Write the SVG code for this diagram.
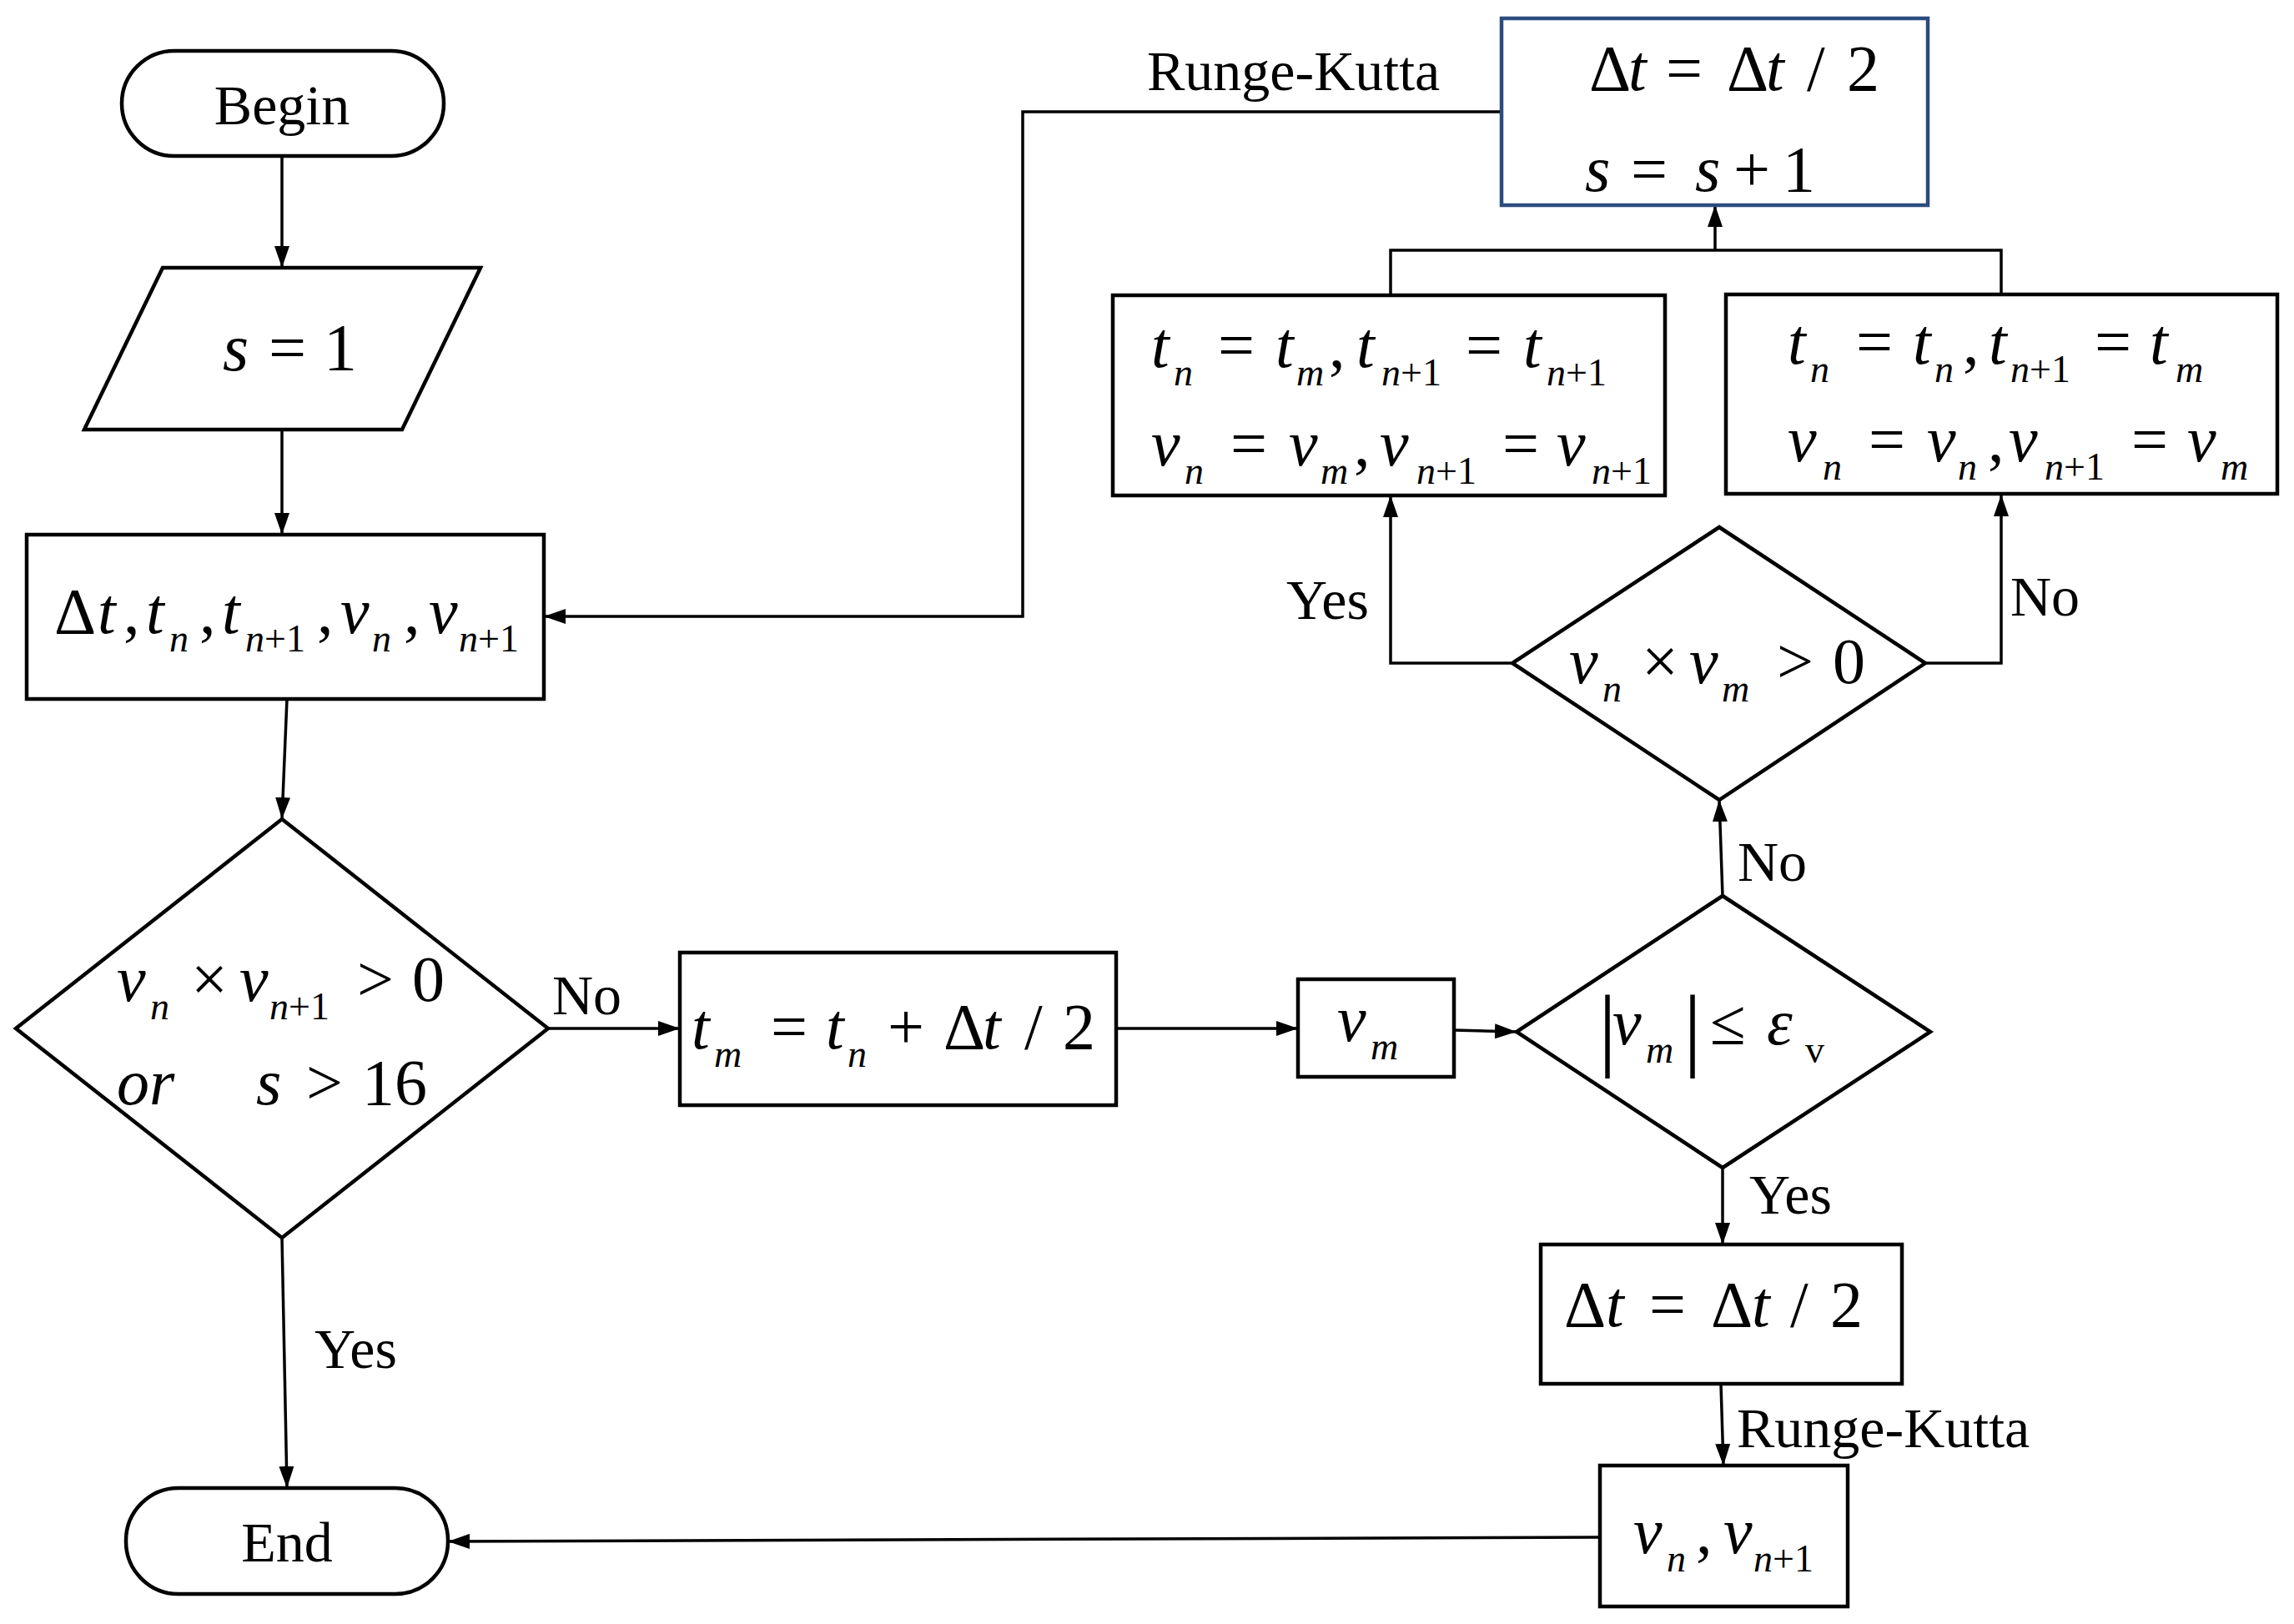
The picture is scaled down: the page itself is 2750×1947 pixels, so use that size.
<svg xmlns="http://www.w3.org/2000/svg" width="2750" height="1947" viewBox="0 0 2750 1947">
<style>
.sh{fill:#fff;stroke:#000;stroke-width:4.5}
.blue{fill:#fff;stroke:#2B4C7E;stroke-width:4.5}
.ln{fill:none;stroke:#000;stroke-width:3.5}
text{font-family:"Liberation Serif","Times New Roman",serif;fill:#000}
.lbl{font-size:68px}
.m{font-size:78px}
.i{font-style:italic}
.s{font-size:46px}
</style>
<defs>
<marker id="ar" markerUnits="userSpaceOnUse" markerWidth="26" markerHeight="18" refX="26" refY="9" orient="auto">
<path d="M0,0 L26,9 L0,18 Z" fill="#000"/>
</marker>
</defs>
<rect width="2750" height="1947" fill="#fff"/>

<g id="connectors">
<path class="ln" d="M338,187 L338,321" marker-end="url(#ar)"/>
<path class="ln" d="M338,515 L338,641" marker-end="url(#ar)"/>
<path class="ln" d="M344,838 L338,982" marker-end="url(#ar)"/>
<path class="ln" d="M338,1484 L344,1784" marker-end="url(#ar)"/>
<path class="ln" d="M657,1233 L815,1233" marker-end="url(#ar)"/>
<path class="ln" d="M1338,1233 L1556,1233" marker-end="url(#ar)"/>
<path class="ln" d="M1743,1235 L1818,1237" marker-end="url(#ar)"/>
<path class="ln" d="M2065,1074 L2061,959" marker-end="url(#ar)"/>
<path class="ln" d="M2065,1400 L2065,1492" marker-end="url(#ar)"/>
<path class="ln" d="M2063,1659 L2066,1757" marker-end="url(#ar)"/>
<path class="ln" d="M1918,1843 L537,1848" marker-end="url(#ar)"/>
<path class="ln" d="M1813,795 L1667,795 L1667,594" marker-end="url(#ar)"/>
<path class="ln" d="M2308,795 L2399,795 L2399,593" marker-end="url(#ar)"/>
<path class="ln" d="M1667,354 L1667,300 L2399,300 L2399,353"/>
<path class="ln" d="M2056,300 L2056,246" marker-end="url(#ar)"/>
<path class="ln" d="M1800,134 L1226,134 L1226,739 L652,739" marker-end="url(#ar)"/>
<text class="lbl" x="1375" y="108">Runge-Kutta</text>
<text class="lbl" x="2082" y="1735">Runge-Kutta</text>
<text class="lbl" x="662" y="1216">No</text>
<text class="lbl" x="377" y="1640">Yes</text>
<text class="lbl" x="2083" y="1056">No</text>
<text class="lbl" x="2097" y="1455">Yes</text>
<text class="lbl" x="1542" y="742">Yes</text>
<text class="lbl" x="2410" y="738">No</text>
</g>

<g id="begin">
<rect class="sh" x="146" y="61" width="386" height="126" rx="63" ry="63"/>
<text class="lbl" x="338" y="149" text-anchor="middle">Begin</text>
</g>

<g id="init-s">
<polygon class="sh" points="195,321 576,321 482,515 101,515"/>
<text class="m" y="444" style="font-size:80px"><tspan class="i" x="267">s</tspan><tspan x="322">=</tspan><tspan x="388">1</tspan></text>
</g>

<g id="vars">
<rect class="sh" x="32" y="641" width="620" height="197"/>
<text class="m"><tspan x="65" y="759">Δ</tspan><tspan class="i" x="117" y="759">t</tspan><tspan x="148" y="759">,</tspan><tspan class="i" x="175" y="759">t</tspan><tspan class="i s" x="203" y="781">n</tspan><tspan x="239" y="759">,</tspan><tspan class="i" x="266" y="759">t</tspan><tspan class="i s" x="294" y="781">n</tspan><tspan class="s" y="781">+1</tspan><tspan x="380" y="759">,</tspan><tspan class="i" x="408" y="759">v</tspan><tspan class="i s" x="446" y="781">n</tspan><tspan x="484" y="759">,</tspan><tspan class="i" x="514" y="759">v</tspan><tspan class="i s" x="550" y="781">n</tspan><tspan class="s" y="781">+1</tspan></text>
</g>

<g id="check1">
<polygon class="sh" points="338,982 657,1233 338,1484 19,1233"/>
<text class="m"><tspan class="i" x="140" y="1200">v</tspan><tspan class="i s" x="180" y="1222">n</tspan><tspan x="229" y="1200">×</tspan><tspan class="i" x="287" y="1200">v</tspan><tspan class="i s" x="323" y="1222">n</tspan><tspan class="s" y="1222">+1</tspan><tspan x="428" y="1200">&gt;</tspan><tspan x="494" y="1200">0</tspan></text>
<text class="m"><tspan class="i" x="140" y="1324">or</tspan><tspan class="i" x="307" y="1324">s</tspan><tspan x="367" y="1324">&gt;</tspan><tspan x="434" y="1324">16</tspan></text>
</g>

<g id="tm">
<rect class="sh" x="815" y="1142" width="523" height="183"/>
<text class="m"><tspan class="i" x="829" y="1257">t</tspan><tspan class="i s" x="856" y="1279">m</tspan><tspan x="924" y="1257">=</tspan><tspan class="i" x="990" y="1257">t</tspan><tspan class="i s" x="1016" y="1279">n</tspan><tspan x="1064" y="1257">+</tspan><tspan x="1131" y="1257">Δ</tspan><tspan class="i" x="1178" y="1257">t</tspan><tspan x="1228" y="1257">/</tspan><tspan x="1274" y="1257">2</tspan></text>
</g>

<g id="vm">
<rect class="sh" x="1556" y="1174" width="187" height="117"/>
<text class="m"><tspan class="i" x="1603" y="1248">v</tspan><tspan class="i s" x="1643" y="1270">m</tspan></text>
</g>

<g id="check2">
<polygon class="sh" points="2065,1074 2314,1237 2065,1400 1818,1237"/>
<text><tspan x="1916" y="1270" style="font-size:110px">|</tspan><tspan class="m i" x="1933" y="1252">v</tspan><tspan class="i s" x="1973" y="1274">m</tspan><tspan x="2018" y="1270" style="font-size:110px">|</tspan><tspan class="m" x="2050" y="1252">≤</tspan><tspan class="m i" x="2118" y="1252">ε</tspan><tspan class="s" x="2164" y="1274">v</tspan></text>
</g>

<g id="halve2">
<rect class="sh" x="1847" y="1492" width="433" height="167"/>
<text class="m"><tspan x="1875" y="1590">Δ</tspan><tspan class="i" x="1925" y="1590">t</tspan><tspan x="1977" y="1590">=</tspan><tspan x="2051" y="1590">Δ</tspan><tspan class="i" x="2100" y="1590">t</tspan><tspan x="2146" y="1590">/</tspan><tspan x="2194" y="1590">2</tspan></text>
</g>

<g id="vnew">
<rect class="sh" x="1918" y="1757" width="297" height="169"/>
<text class="m"><tspan class="i" x="1958" y="1862">v</tspan><tspan class="i s" x="1998" y="1884">n</tspan><tspan x="2033" y="1862">,</tspan><tspan class="i" x="2066" y="1862">v</tspan><tspan class="i s" x="2102" y="1884">n</tspan><tspan class="s" y="1884">+1</tspan></text>
</g>

<g id="end">
<rect class="sh" x="151" y="1784" width="386" height="127" rx="63" ry="63"/>
<text class="lbl" x="344" y="1872" text-anchor="middle">End</text>
</g>

<g id="check3">
<polygon class="sh" points="2061,632 2308,795 2061,959 1813,795"/>
<text class="m"><tspan class="i" x="1881" y="819">v</tspan><tspan class="i s" x="1921" y="841">n</tspan><tspan x="1968" y="819">×</tspan><tspan class="i" x="2025" y="819">v</tspan><tspan class="i s" x="2064" y="841">m</tspan><tspan x="2130" y="819">&gt;</tspan><tspan x="2197" y="819">0</tspan></text>
</g>

<g id="update-yes">
<rect class="sh" x="1334" y="354" width="662" height="240"/>
<text class="m"><tspan class="i" x="1380" y="440">t</tspan><tspan class="i s" x="1407" y="462">n</tspan><tspan x="1460" y="440">=</tspan><tspan class="i" x="1529" y="440">t</tspan><tspan class="i s" x="1554" y="462">m</tspan><tspan x="1593" y="440">,</tspan><tspan class="i" x="1626" y="440">t</tspan><tspan class="i s" x="1656" y="462">n</tspan><tspan class="s" y="462">+1</tspan><tspan x="1757" y="440">=</tspan><tspan class="i" x="1826" y="440">t</tspan><tspan class="i s" x="1854" y="462">n</tspan><tspan class="s" y="462">+1</tspan></text>
<text class="m"><tspan class="i" x="1380" y="558">v</tspan><tspan class="i s" x="1420" y="580">n</tspan><tspan x="1475" y="558">=</tspan><tspan class="i" x="1545" y="558">v</tspan><tspan class="i s" x="1583" y="580">m</tspan><tspan x="1623" y="558">,</tspan><tspan class="i" x="1654" y="558">v</tspan><tspan class="i s" x="1698" y="580">n</tspan><tspan class="s" y="580">+1</tspan><tspan x="1801" y="558">=</tspan><tspan class="i" x="1866" y="558">v</tspan><tspan class="i s" x="1908" y="580">n</tspan><tspan class="s" y="580">+1</tspan></text>
</g>

<g id="update-no">
<rect class="sh" x="2069" y="353" width="661" height="239"/>
<text class="m"><tspan class="i" x="2143" y="436">t</tspan><tspan class="i s" x="2170" y="458">n</tspan><tspan x="2225" y="436">=</tspan><tspan class="i" x="2293" y="436">t</tspan><tspan class="i s" x="2319" y="458">n</tspan><tspan x="2353" y="436">,</tspan><tspan class="i" x="2384" y="436">t</tspan><tspan class="i s" x="2410" y="458">n</tspan><tspan class="s" y="458">+1</tspan><tspan x="2511" y="436">=</tspan><tspan class="i" x="2577" y="436">t</tspan><tspan class="i s" x="2608" y="458">m</tspan></text>
<text class="m"><tspan class="i" x="2143" y="553">v</tspan><tspan class="i s" x="2185" y="575">n</tspan><tspan x="2240" y="553">=</tspan><tspan class="i" x="2310" y="553">v</tspan><tspan class="i s" x="2347" y="575">n</tspan><tspan x="2383" y="553">,</tspan><tspan class="i" x="2408" y="553">v</tspan><tspan class="i s" x="2451" y="575">n</tspan><tspan class="s" y="575">+1</tspan><tspan x="2555" y="553">=</tspan><tspan class="i" x="2622" y="553">v</tspan><tspan class="i s" x="2662" y="575">m</tspan></text>
</g>

<g id="halve1">
<rect class="blue" x="1800" y="22" width="511" height="224"/>
<text class="m"><tspan x="1905" y="108">Δ</tspan><tspan class="i" x="1952" y="108">t</tspan><tspan x="1997" y="108">=</tspan><tspan x="2070" y="108">Δ</tspan><tspan class="i" x="2117" y="108">t</tspan><tspan x="2166" y="108">/</tspan><tspan x="2214" y="108">2</tspan></text>
<text class="m"><tspan class="i" x="1900" y="229">s</tspan><tspan x="1955" y="229">=</tspan><tspan class="i" x="2032" y="229">s</tspan><tspan x="2078" y="229">+</tspan><tspan x="2137" y="229">1</tspan></text>
</g>
</svg>
